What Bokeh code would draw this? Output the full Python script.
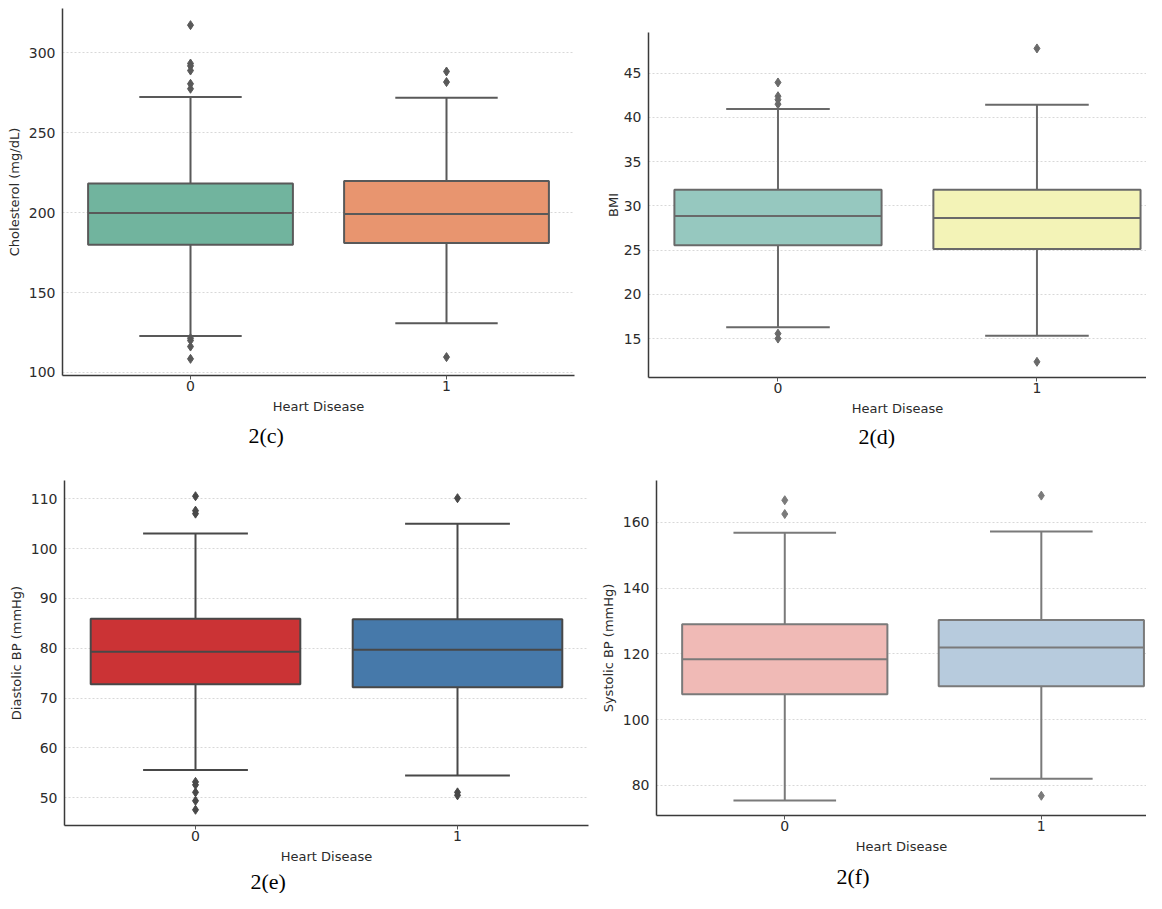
from bokeh.plotting import figure
from bokeh.layouts import column, row
from bokeh.models import Range1d, FixedTicker, Title
from bokeh.embed import file_html
from bokeh.resources import INLINE

categories = ["0", "1"]
x_label = "Heart Disease"

# 2(c) Cholesterol
chol_q1 = [179.8, 180.9]
chol_median = [199.7, 199.1]
chol_q3 = [218.2, 219.8]
chol_lower = [122.8, 130.7]
chol_upper = [272.2, 271.8]
chol_out_0 = [317.2, 293.2, 291.7, 288.8, 280.5, 277.4, 121.4, 120.0, 116.2, 108.5]
chol_out_1 = [288.2, 281.6, 109.6]
chol_ticks = [100, 150, 200, 250, 300]

# 2(d) BMI
bmi_q1 = [25.55, 25.14]
bmi_median = [28.85, 28.63]
bmi_q3 = [31.82, 31.82]
bmi_lower = [16.27, 15.33]
bmi_upper = [40.94, 41.43]
bmi_out_0 = [43.95, 42.4, 42.0, 41.5, 15.56, 15.0]
bmi_out_1 = [47.8, 12.37]
bmi_ticks = [15, 20, 25, 30, 35, 40, 45]

# 2(e) Diastolic BP
dia_q1 = [72.8, 72.2]
dia_median = [79.3, 79.7]
dia_q3 = [85.9, 85.8]
dia_lower = [55.6, 54.5]
dia_upper = [103.0, 105.0]
dia_out_0 = [110.5, 107.6, 107.0, 53.2, 52.6, 51.1, 49.4, 47.6]
dia_out_1 = [110.1, 51.1, 50.5]
dia_ticks = [50, 60, 70, 80, 90, 100, 110]

# 2(f) Systolic BP
sys_q1 = [107.7, 110.1]
sys_median = [118.3, 121.9]
sys_q3 = [129.0, 130.3]
sys_lower = [75.4, 82.0]
sys_upper = [156.8, 157.2]
sys_out_0 = [166.7, 162.5]
sys_out_1 = [168.1, 76.8]
sys_ticks = [80, 100, 120, 140, 160]

TICK_FONT = "DejaVu Sans"


def panel(q1, med, q3, lo, hi, out0, out1, colors, gray, ylabel, yticks,
          yr, xend, caption, width, height, mb, cap_offset, cap_standoff,
          ylabel_standoff):
    p = figure(width=width, height=height, output_backend="svg",
               toolbar_location=None, x_range=Range1d(-0.5, xend),
               y_range=Range1d(*yr),
               min_border_left=mb[0], min_border_right=mb[1],
               min_border_top=mb[2], min_border_bottom=mb[3])
    p.frame_align = False
    p.outline_line_color = None
    p.background_fill_color = "white"
    p.border_fill_color = "white"
    xs = list(range(len(categories)))
    bw = 0.8
    cw = 0.4
    # whiskers
    p.segment(x0=xs, x1=xs, y0=q3, y1=hi, line_color=gray, line_width=2)
    p.segment(x0=xs, x1=xs, y0=q1, y1=lo, line_color=gray, line_width=2)
    p.segment(x0=[x - cw / 2 for x in xs], x1=[x + cw / 2 for x in xs],
              y0=hi, y1=hi, line_color=gray, line_width=2)
    p.segment(x0=[x - cw / 2 for x in xs], x1=[x + cw / 2 for x in xs],
              y0=lo, y1=lo, line_color=gray, line_width=2)
    # boxes
    p.vbar(x=xs, width=bw, top=q3, bottom=q1, fill_color=colors,
           line_color=gray, line_width=2)
    p.segment(x0=[x - bw / 2 for x in xs], x1=[x + bw / 2 for x in xs],
              y0=med, y1=med, line_color=gray, line_width=2)
    # outliers
    ox = [0] * len(out0) + [1] * len(out1)
    oy = list(out0) + list(out1)
    p.scatter(x=ox, y=oy, marker="diamond", size=9, fill_color=gray,
              line_color=gray)

    p.xgrid.grid_line_color = None
    p.ygrid.grid_line_color = "#d8d8d8"
    p.ygrid.grid_line_dash = "2 2"
    p.ygrid.grid_line_width = 1
    p.yaxis.ticker = FixedTicker(ticks=yticks)
    p.xaxis.ticker = FixedTicker(ticks=xs)
    p.xaxis.major_label_overrides = {i: c for i, c in enumerate(categories)}
    for ax in (p.xaxis[0], p.yaxis[0]):
        ax.axis_line_color = "#3a3a3a"
        ax.axis_line_width = 1.5
        ax.minor_tick_line_color = None
        ax.major_label_text_font = TICK_FONT
        ax.major_label_text_font_size = "14px"
        ax.major_label_text_color = "#2b2b2b"
        ax.axis_label_text_font = TICK_FONT
        ax.axis_label_text_font_size = "13px"
        ax.axis_label_text_font_style = "normal"
        ax.axis_label_text_color = "#2b2b2b"
    p.xaxis.major_tick_line_color = "#555555"
    p.xaxis.major_tick_out = 4
    p.xaxis.major_tick_in = 0
    p.xaxis.major_label_standoff = 1
    p.xaxis.axis_label = x_label
    p.xaxis.axis_label_standoff = 5
    p.yaxis.major_tick_line_color = None
    p.yaxis.major_tick_out = 0
    p.yaxis.major_tick_in = 0
    p.yaxis.major_label_standoff = 7
    p.yaxis.axis_label = ylabel
    p.yaxis.axis_label_standoff = ylabel_standoff
    p.add_layout(Title(text=caption, align="left", offset=cap_offset,
                       standoff=cap_standoff, text_font="Liberation Serif",
                       text_font_size="22px", text_font_style="normal",
                       text_color="#000000"), "below")
    return p


pc = panel(chol_q1, chol_median, chol_q3, chol_lower, chol_upper,
           chol_out_0, chol_out_1, ["#71b49e", "#e8956f"], "#595959",
           "Cholesterol (mg/dL)", chol_ticks, (98.1, 327.6), 1.5, "2(c)",
           580, 468, (62, 6, 8, 93), 186, 9, 4)
pd_ = panel(bmi_q1, bmi_median, bmi_q3, bmi_lower, bmi_upper,
            bmi_out_0, bmi_out_1, ["#96c8bf", "#f3f3b7"], "#696969",
            "BMI", bmi_ticks, (10.6, 49.6), 1.423, "2(d)",
            566, 468, (68, 0, 32, 91), 210, 7, 0)
pe = panel(dia_q1, dia_median, dia_q3, dia_lower, dia_upper,
           dia_out_0, dia_out_1, ["#cb3335", "#4679aa"], "#484848",
           "Diastolic BP (mmHg)", dia_ticks, (44.45, 113.65), 1.5, "2(e)",
           590, 425, (64, 2, 12, 67), 186, 0, 4)
pf = panel(sys_q1, sys_median, sys_q3, sys_lower, sys_upper,
           sys_out_0, sys_out_1, ["#f0bab6", "#b7cbdd"], "#7a7a7a",
           "Systolic BP (mmHg)", sys_ticks, (70.8, 172.7), 1.41, "2(f)",
           556, 425, (66, 0, 12, 75), 180, 10, 4)

layout = column(row(pc, pd_, spacing=0), row(pe, pf, spacing=0), spacing=0)
open("out.html", "w").write(file_html(layout, INLINE))
